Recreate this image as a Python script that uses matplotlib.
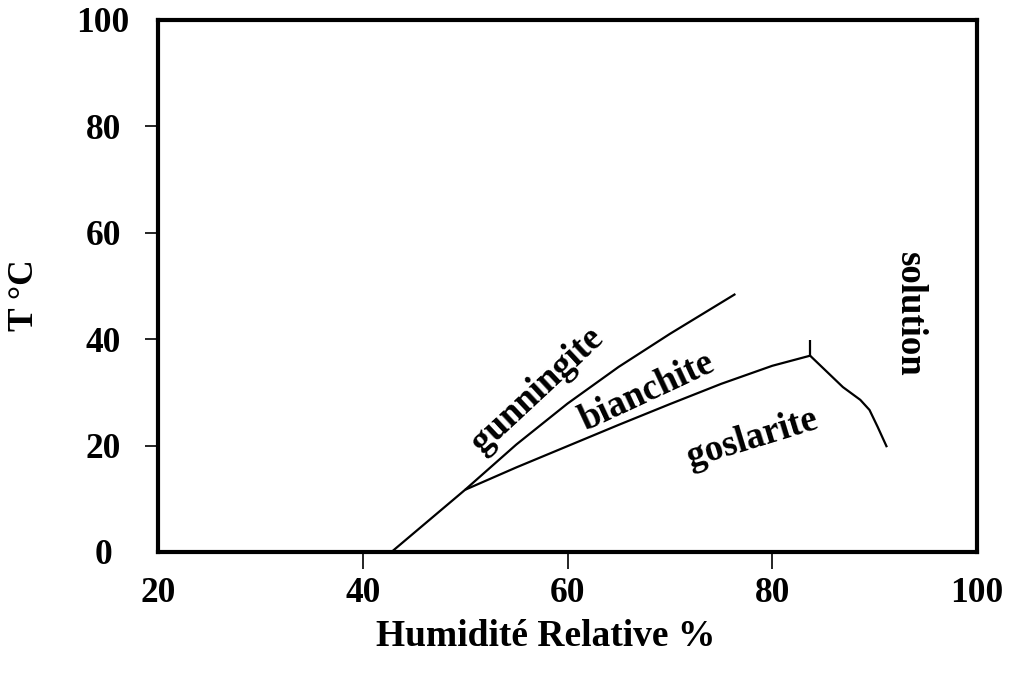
import matplotlib
matplotlib.use("Agg")
import matplotlib.pyplot as plt

plt.rcParams['font.family'] = ['Liberation Serif', 'DejaVu Serif']
plt.rcParams['font.weight'] = 'bold'

# Phase boundaries of zinc sulfate hydrates (RH %, T °C)
gunningite_rh = [42.8, 50.0, 55.0, 60.0, 65.0, 70.0, 76.4]
gunningite_t = [0.0, 11.7, 20.2, 27.9, 34.8, 41.0, 48.5]

bianchite_rh = [50.0, 55.0, 60.0, 65.0, 70.0, 75.0, 80.0, 83.7]
bianchite_t = [11.7, 15.9, 19.9, 23.9, 27.8, 31.6, 35.0, 36.9]

tick_rh = [83.7, 83.7]
tick_t = [36.9, 39.9]

solution_rh = [83.7, 86.9, 88.6, 89.5, 90.3, 91.2]
solution_t = [36.9, 31.0, 28.6, 26.7, 23.5, 19.7]

x_ticks = [20, 40, 60, 80, 100]
y_ticks = [0, 20, 40, 60, 80, 100]

W, H = 1010, 675
fig = plt.figure(figsize=(W / 100, H / 100), dpi=100)
left, right, top, bottom = 158, 977, 20, 552
ax = fig.add_axes([left / W, (H - bottom) / H, (right - left) / W, (bottom - top) / H])

line_kw = dict(color='black', lw=1.6, solid_capstyle='butt')
ax.plot(gunningite_rh, gunningite_t, **line_kw)
ax.plot(bianchite_rh, bianchite_t, **line_kw)
ax.plot(tick_rh, tick_t, **line_kw)
ax.plot(solution_rh, solution_t, **line_kw)

ax.set_xlim(20, 100)
ax.set_ylim(0, 100)

for s in ax.spines.values():
    s.set_linewidth(3)

fs = 25.5
ax.set_xticks(x_ticks)
ax.set_yticks(y_ticks)
ax.set_xticklabels([str(v) for v in x_ticks], fontsize=fs, fontweight='bold')
ax.set_yticklabels([str(v) for v in y_ticks], fontsize=fs, fontweight='bold', ha='center')
ax.tick_params(axis='x', direction='out', length=12, width=1.2, pad=6)
ax.tick_params(axis='y', direction='out', length=9.5, width=1.2, pad=30)

# hide the outward marks at the frame corners
for t in (ax.xaxis.get_major_ticks()[0], ax.xaxis.get_major_ticks()[-1]):
    t.tick1line.set_visible(False)
for t in (ax.yaxis.get_major_ticks()[0], ax.yaxis.get_major_ticks()[-1]):
    t.tick1line.set_visible(False)

ax.set_xlabel('Humidité Relative %', fontsize=27, fontweight='bold')
ax.set_ylabel('T °C', fontsize=fs, fontweight='bold')
ax.xaxis.set_label_coords((546 - left) / (right - left), (bottom - 636) / (bottom - top))
ax.yaxis.set_label_coords((25 - left) / (right - left), (bottom - 295) / (bottom - top))
ax.xaxis.label.set_va('center')
ax.yaxis.label.set_va('center')

lab_fs = 26.5
ax.text(57.0, 30.4, 'gunningite', rotation=43, ha='center', va='center',
        fontsize=lab_fs, fontweight='bold', rotation_mode='anchor')
ax.text(67.75, 30.1, 'bianchite', rotation=25, ha='center', va='center',
        fontsize=lab_fs, fontweight='bold', rotation_mode='anchor')
ax.text(78.1, 21.4, 'goslarite', rotation=17, ha='center', va='center',
        fontsize=lab_fs, fontweight='bold', rotation_mode='anchor')
ax.text(93.4, 44.7, 'solution', rotation=-90, ha='center', va='center',
        fontsize=lab_fs, fontweight='bold', rotation_mode='anchor')

fig.savefig('out.png', dpi=100)
